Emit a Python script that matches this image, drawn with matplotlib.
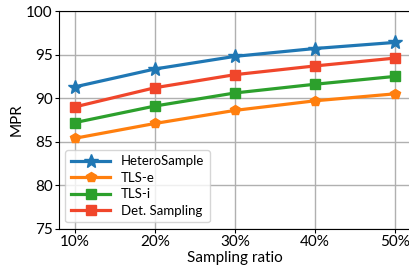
import numpy as np
import matplotlib
matplotlib.use("Agg")
import matplotlib.pyplot as plt

plt.rcParams['font.family'] = ['Lato', 'DejaVu Sans']

# sampling ratio (%) and MPR per method
ratios = [10, 20, 30, 40, 50]
tick_labels = ['10%', '20%', '30%', '40%', '50%']
hetero = [91.3, 93.35, 94.8, 95.7, 96.4]
tls_e = [85.4, 87.1, 88.6, 89.7, 90.5]
tls_i = [87.2, 89.1, 90.6, 91.6, 92.5]
det = [89.0, 91.2, 92.7, 93.7, 94.6]

fig = plt.figure(figsize=(4.09, 2.69), dpi=100)
ax = fig.add_axes([0.144, 0.149, 0.861, 0.81])

ax.plot(ratios, hetero, color='#1f77b4', marker='*', markersize=10, linewidth=2.3, label='HeteroSample', zorder=5)
ax.plot(ratios, tls_e, color='#ff7f0e', marker='p', markersize=7, linewidth=2.3, label='TLS-e', zorder=4)
ax.plot(ratios, tls_i, color='#2ca02c', marker='s', markersize=7, linewidth=2.3, label='TLS-i', zorder=4)
ax.plot(ratios, det, color='#f0462b', marker='s', markersize=7, linewidth=2.3, label='Det. Sampling', zorder=4)

ax.set_xlim(8, 52)
ax.set_ylim(75, 100)
ax.set_xticks(ratios)
ax.set_xticklabels(tick_labels)
ax.set_yticks([75, 80, 85, 90, 95, 100])
ax.tick_params(labelsize=11, length=3, pad=1.5)
ax.grid(True, color='#b0b0b0', linewidth=1)
ax.set_axisbelow(True)
ax.set_xlabel('Sampling ratio', fontsize=11, labelpad=1)
ax.set_ylabel('MPR', fontsize=11, labelpad=2)
ax.legend(loc='lower left', fontsize=9.5, handlelength=3, labelspacing=0.35)

fig.savefig('out.png', dpi=100)
